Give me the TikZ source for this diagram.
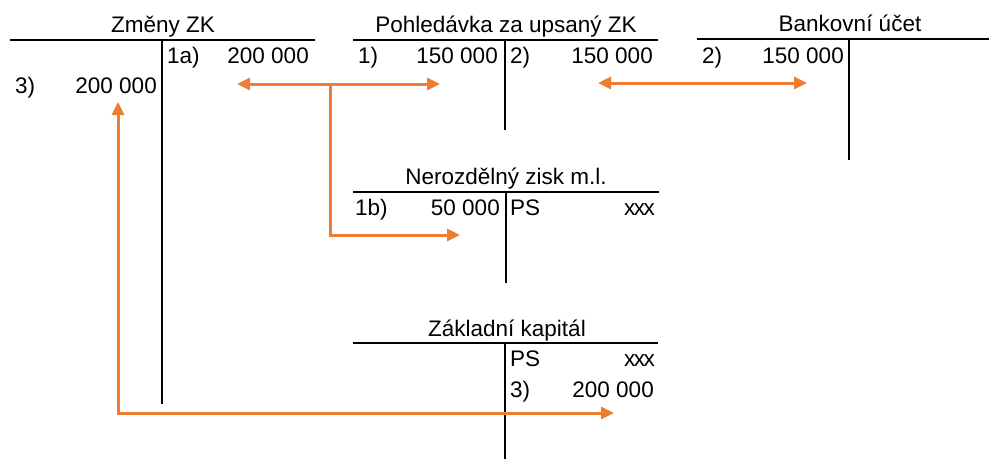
\documentclass[tikz,border=0pt]{standalone}
\usepackage{fontspec}
\setmainfont{Liberation Sans}
\usetikzlibrary{arrows.meta}
\definecolor{arrorange}{RGB}{237,125,49}
\newcommand{\tightx}{x\kern-1.5pt x\kern-1.5pt x}
\begin{document}
\begin{tikzpicture}[x=1pt,y=-1pt,
  txt/.style={inner sep=0pt,font=\fontsize{22.5}{27}\selectfont},
  lt/.style={txt,anchor=base west},
  rt/.style={txt,anchor=base east},
  ttl/.style={txt,anchor=base},
  tline/.style={line width=2.5pt,black},
  flow/.style={line width=3pt,arrorange,{Triangle[length=13pt,width=12pt]}-{Triangle[length=13pt,width=12pt]}},
  flowone/.style={line width=3pt,arrorange,-{Triangle[length=13pt,width=12pt]}}]
\useasboundingbox (0,0) rectangle (989,459);

% --- Změny ZK
\node[ttl] (zzkT) at (163,32) {Změny ZK};
\coordinate (zzkL) at (10,40); \coordinate (zzkR) at (315,40);
\coordinate (zzkTop) at (162,40); \coordinate (zzkBot) at (162,404);
\draw[tline] (zzkL) -- (zzkR);
\draw[tline] (zzkTop) -- (zzkBot);
\node[lt] (zzk1a) at (167,63) {1a)};
\node[rt] (zzk1av) at (309,63) {200 000};
\node[lt] (zzk3) at (15,93) {3)};
\node[rt] (zzk3v) at (157,93) {200 000};

% --- Pohledávka za upsaný ZK
\node[ttl] (pohT) at (506,32) {Pohledávka za upsaný ZK};
\coordinate (pohL) at (353,40); \coordinate (pohR) at (658,40);
\coordinate (pohTop) at (505,40); \coordinate (pohBot) at (505,130);
\draw[tline] (pohL) -- (pohR);
\draw[tline] (pohTop) -- (pohBot);
\node[lt] (poh1) at (358,63) {1)};
\node[rt] (poh1v) at (498,63) {150 000};
\node[lt] (poh2) at (510,63) {2)};
\node[rt] (poh2v) at (653,63) {150 000};

% --- Bankovní účet
\node[ttl] (bankT) at (850,31) {Bankovní účet};
\coordinate (bankL) at (697,39); \coordinate (bankR) at (989,39);
\coordinate (bankTop) at (849,39); \coordinate (bankBot) at (849,160);
\draw[tline] (bankL) -- (bankR);
\draw[tline] (bankTop) -- (bankBot);
\node[lt] (bank2) at (702,63) {2)};
\node[rt] (bank2v) at (844,63) {150 000};

% --- Nerozdělný zisk m.l.
\node[ttl] (nzT) at (506,184) {Nerozdělný zisk m.l.};
\coordinate (nzL) at (353,192); \coordinate (nzR) at (659,192);
\coordinate (nzTop) at (506,192); \coordinate (nzBot) at (506,283);
\draw[tline] (nzL) -- (nzR);
\draw[tline] (nzTop) -- (nzBot);
\node[lt] (nz1b) at (355,215) {1b)};
\node[rt] (nz1bv) at (500,215) {50 000};
\node[lt] (nzPS) at (510,215) {PS};
\node[rt] (nzPSv) at (655,215) {\tightx};

% --- Základní kapitál
\node[ttl] (zkT) at (507,336) {Základní kapitál};
\coordinate (zkL) at (353,343); \coordinate (zkR) at (658,343);
\coordinate (zkTop) at (505,343); \coordinate (zkBot) at (505,459);
\draw[tline] (zkL) -- (zkR);
\draw[tline] (zkTop) -- (zkBot);
\node[lt] (zkPS) at (510,366) {PS};
\node[rt] (zkPSv) at (655,366) {\tightx};
\node[lt] (zk3) at (510,397) {3)};
\node[rt] (zk3v) at (654,397) {200 000};

% --- orange flows
\coordinate (a1) at (237,84); \coordinate (a2) at (440,84);
\coordinate (a3) at (330,84); \coordinate (a4) at (330,235); \coordinate (a5) at (460,235);
\draw[flow] (a1) -- (a2);
\draw[flowone] (a3) -- (a4) -- (a5);

\coordinate (b1) at (598,83); \coordinate (b2) at (807,83);
\draw[flow] (b1) -- (b2);

\coordinate (c1) at (118,102); \coordinate (c2) at (118,413); \coordinate (c3) at (614,413);
\draw[flow] (c1) -- (c2) -- (c3);
\end{tikzpicture}
\end{document}
